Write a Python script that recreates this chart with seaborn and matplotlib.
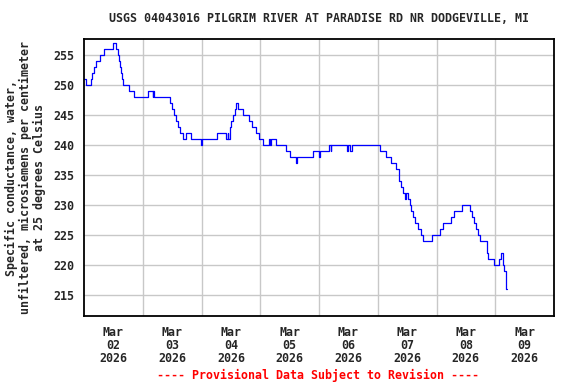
import pandas as pd
import matplotlib
matplotlib.use('Agg')
import matplotlib.pyplot as plt
import seaborn as sns

# Change points of the 15-minute record
times = [
    '2026-03-02 00:00', '2026-03-02 01:00', '2026-03-02 02:45', '2026-03-02 03:15',
    '2026-03-02 04:00', '2026-03-02 05:00', '2026-03-02 06:30', '2026-03-02 08:15',
    '2026-03-02 12:00', '2026-03-02 13:15', '2026-03-02 14:00', '2026-03-02 14:30',
    '2026-03-02 14:45', '2026-03-02 15:00', '2026-03-02 15:30', '2026-03-02 16:00',
    '2026-03-02 18:30', '2026-03-02 20:15', '2026-03-03 02:15', '2026-03-03 04:00',
    '2026-03-03 04:15', '2026-03-03 04:45', '2026-03-03 11:15', '2026-03-03 12:00',
    '2026-03-03 12:45', '2026-03-03 13:30', '2026-03-03 14:30', '2026-03-03 15:15',
    '2026-03-03 16:30', '2026-03-03 17:30', '2026-03-03 19:45', '2026-03-03 23:45',
    '2026-03-04 00:15', '2026-03-04 06:15', '2026-03-04 10:00', '2026-03-04 10:45',
    '2026-03-04 11:00', '2026-03-04 11:30', '2026-03-04 11:45', '2026-03-04 12:15',
    '2026-03-04 12:45', '2026-03-04 13:30', '2026-03-04 14:00', '2026-03-04 15:00',
    '2026-03-04 17:00', '2026-03-04 19:15', '2026-03-04 20:45', '2026-03-04 22:15',
    '2026-03-04 23:30', '2026-03-05 01:00', '2026-03-05 03:45', '2026-03-05 04:00',
    '2026-03-05 04:30', '2026-03-05 06:30', '2026-03-05 10:30', '2026-03-05 12:15',
    '2026-03-05 14:45', '2026-03-05 15:00', '2026-03-05 21:30', '2026-03-06 00:00',
    '2026-03-06 00:30', '2026-03-06 04:00', '2026-03-06 04:45', '2026-03-06 05:00',
    '2026-03-06 11:30', '2026-03-06 12:00', '2026-03-06 12:30', '2026-03-06 13:30',
    '2026-03-07 01:00', '2026-03-07 03:15', '2026-03-07 05:30', '2026-03-07 07:30',
    '2026-03-07 08:30', '2026-03-07 08:45', '2026-03-07 09:30', '2026-03-07 10:15',
    '2026-03-07 11:00', '2026-03-07 11:30', '2026-03-07 12:15', '2026-03-07 13:00',
    '2026-03-07 13:30', '2026-03-07 14:30', '2026-03-07 15:15', '2026-03-07 16:15',
    '2026-03-07 17:30', '2026-03-07 18:30', '2026-03-07 22:15', '2026-03-08 01:30',
    '2026-03-08 02:45', '2026-03-08 05:45', '2026-03-08 07:15', '2026-03-08 10:30',
    '2026-03-08 13:45', '2026-03-08 14:30', '2026-03-08 15:15', '2026-03-08 16:00',
    '2026-03-08 17:00', '2026-03-08 17:45', '2026-03-08 20:30', '2026-03-08 20:45',
    '2026-03-08 21:00', '2026-03-08 23:30', '2026-03-09 01:30', '2026-03-09 02:30',
    '2026-03-09 03:00', '2026-03-09 03:15', '2026-03-09 03:45', '2026-03-09 04:15',
    '2026-03-09 04:30', '2026-03-09 04:45',
]
conductance = [
    251, 250, 251, 252, 253, 254, 255, 256,
    257, 256, 255, 254, 253, 252, 251, 250,
    249, 248, 249, 248, 249, 248, 247, 246,
    245, 244, 243, 242, 241, 242, 241, 240,
    241, 242, 241, 242, 241, 242, 243, 244,
    245, 246, 247, 246, 245, 244, 243, 242,
    241, 240, 241, 240, 241, 240, 239, 238,
    237, 238, 239, 238, 239, 240, 239, 240,
    239, 240, 239, 240, 239, 238, 237, 236,
    235, 234, 233, 232, 231, 232, 231, 230,
    229, 228, 227, 226, 225, 224, 225, 226,
    227, 228, 229, 230, 229, 228, 227, 226,
    225, 224, 223, 222, 221, 220, 221, 222,
    221, 220, 219, 217, 216, 216,
]

day_labels = ['Mar\n02\n2026', 'Mar\n03\n2026', 'Mar\n04\n2026', 'Mar\n05\n2026',
              'Mar\n06\n2026', 'Mar\n07\n2026', 'Mar\n08\n2026', 'Mar\n09\n2026']
y_ticks = [215, 220, 225, 230, 235, 240, 245, 250, 255]

df = pd.DataFrame({'time': pd.to_datetime(times), 'value': conductance})

sns.set_style('white')
plt.rcParams['font.family'] = ['DejaVu Sans Mono']
plt.rcParams['font.weight'] = 'bold'
fs = 8.4

fig = plt.figure(figsize=(5.76, 3.84), dpi=100)
ax = fig.add_axes([84 / 576, 1 - 316 / 384, 470 / 576, (316 - 39.3) / 384])

sns.lineplot(data=df, x='time', y='value', ax=ax, color='#0000FF', linewidth=0.9,
             drawstyle='steps-post', estimator=None)

start = pd.Timestamp('2026-03-02')
ax.set_xlim(start, start + pd.Timedelta(days=8))
ax.set_ylim(211.5, 257.6)

# gridlines at midnight, labels centred on each day
midnights = [start + pd.Timedelta(days=i) for i in range(1, 8)]
noons = [start + pd.Timedelta(days=i, hours=12) for i in range(8)]
ax.set_xticks(midnights, minor=True)
ax.set_xticks(noons)
ax.set_xticklabels(day_labels, fontsize=fs, fontweight='bold', linespacing=1.02)
ax.set_yticks(y_ticks)
ax.set_yticklabels([str(v) for v in y_ticks], fontsize=fs, fontweight='bold')
ax.tick_params(axis='both', which='both', length=0)
ax.tick_params(axis='x', pad=7)
ax.tick_params(axis='y', pad=7)

ax.grid(False)
ax.grid(True, which='minor', axis='x', color='#c8c8c8', linewidth=1)
ax.grid(True, which='major', axis='y', color='#c8c8c8', linewidth=1)
ax.set_axisbelow(True)
for s in ax.spines.values():
    s.set_color('black')
    s.set_linewidth(1.3)

ax.set_xlabel('')
ax.set_ylabel('Specific conductance, water,\nunfiltered, microsiemens per centimeter\nat 25 degrees Celsius',
              fontsize=fs, fontweight='bold', multialignment='center', linespacing=1.12)
ax.yaxis.set_label_coords(-0.08, 0.5)

fig.text(319 / 576, 1 - 19 / 384, 'USGS 04043016 PILGRIM RIVER AT PARADISE RD NR DODGEVILLE, MI',
         ha='center', va='center', fontsize=fs, fontweight='bold')
fig.text(318 / 576, 1 - 375 / 384, '---- Provisional Data Subject to Revision ----',
         ha='center', va='center', fontsize=fs, fontweight='bold', color='#FF0000')

fig.savefig('out.png', dpi=100)
